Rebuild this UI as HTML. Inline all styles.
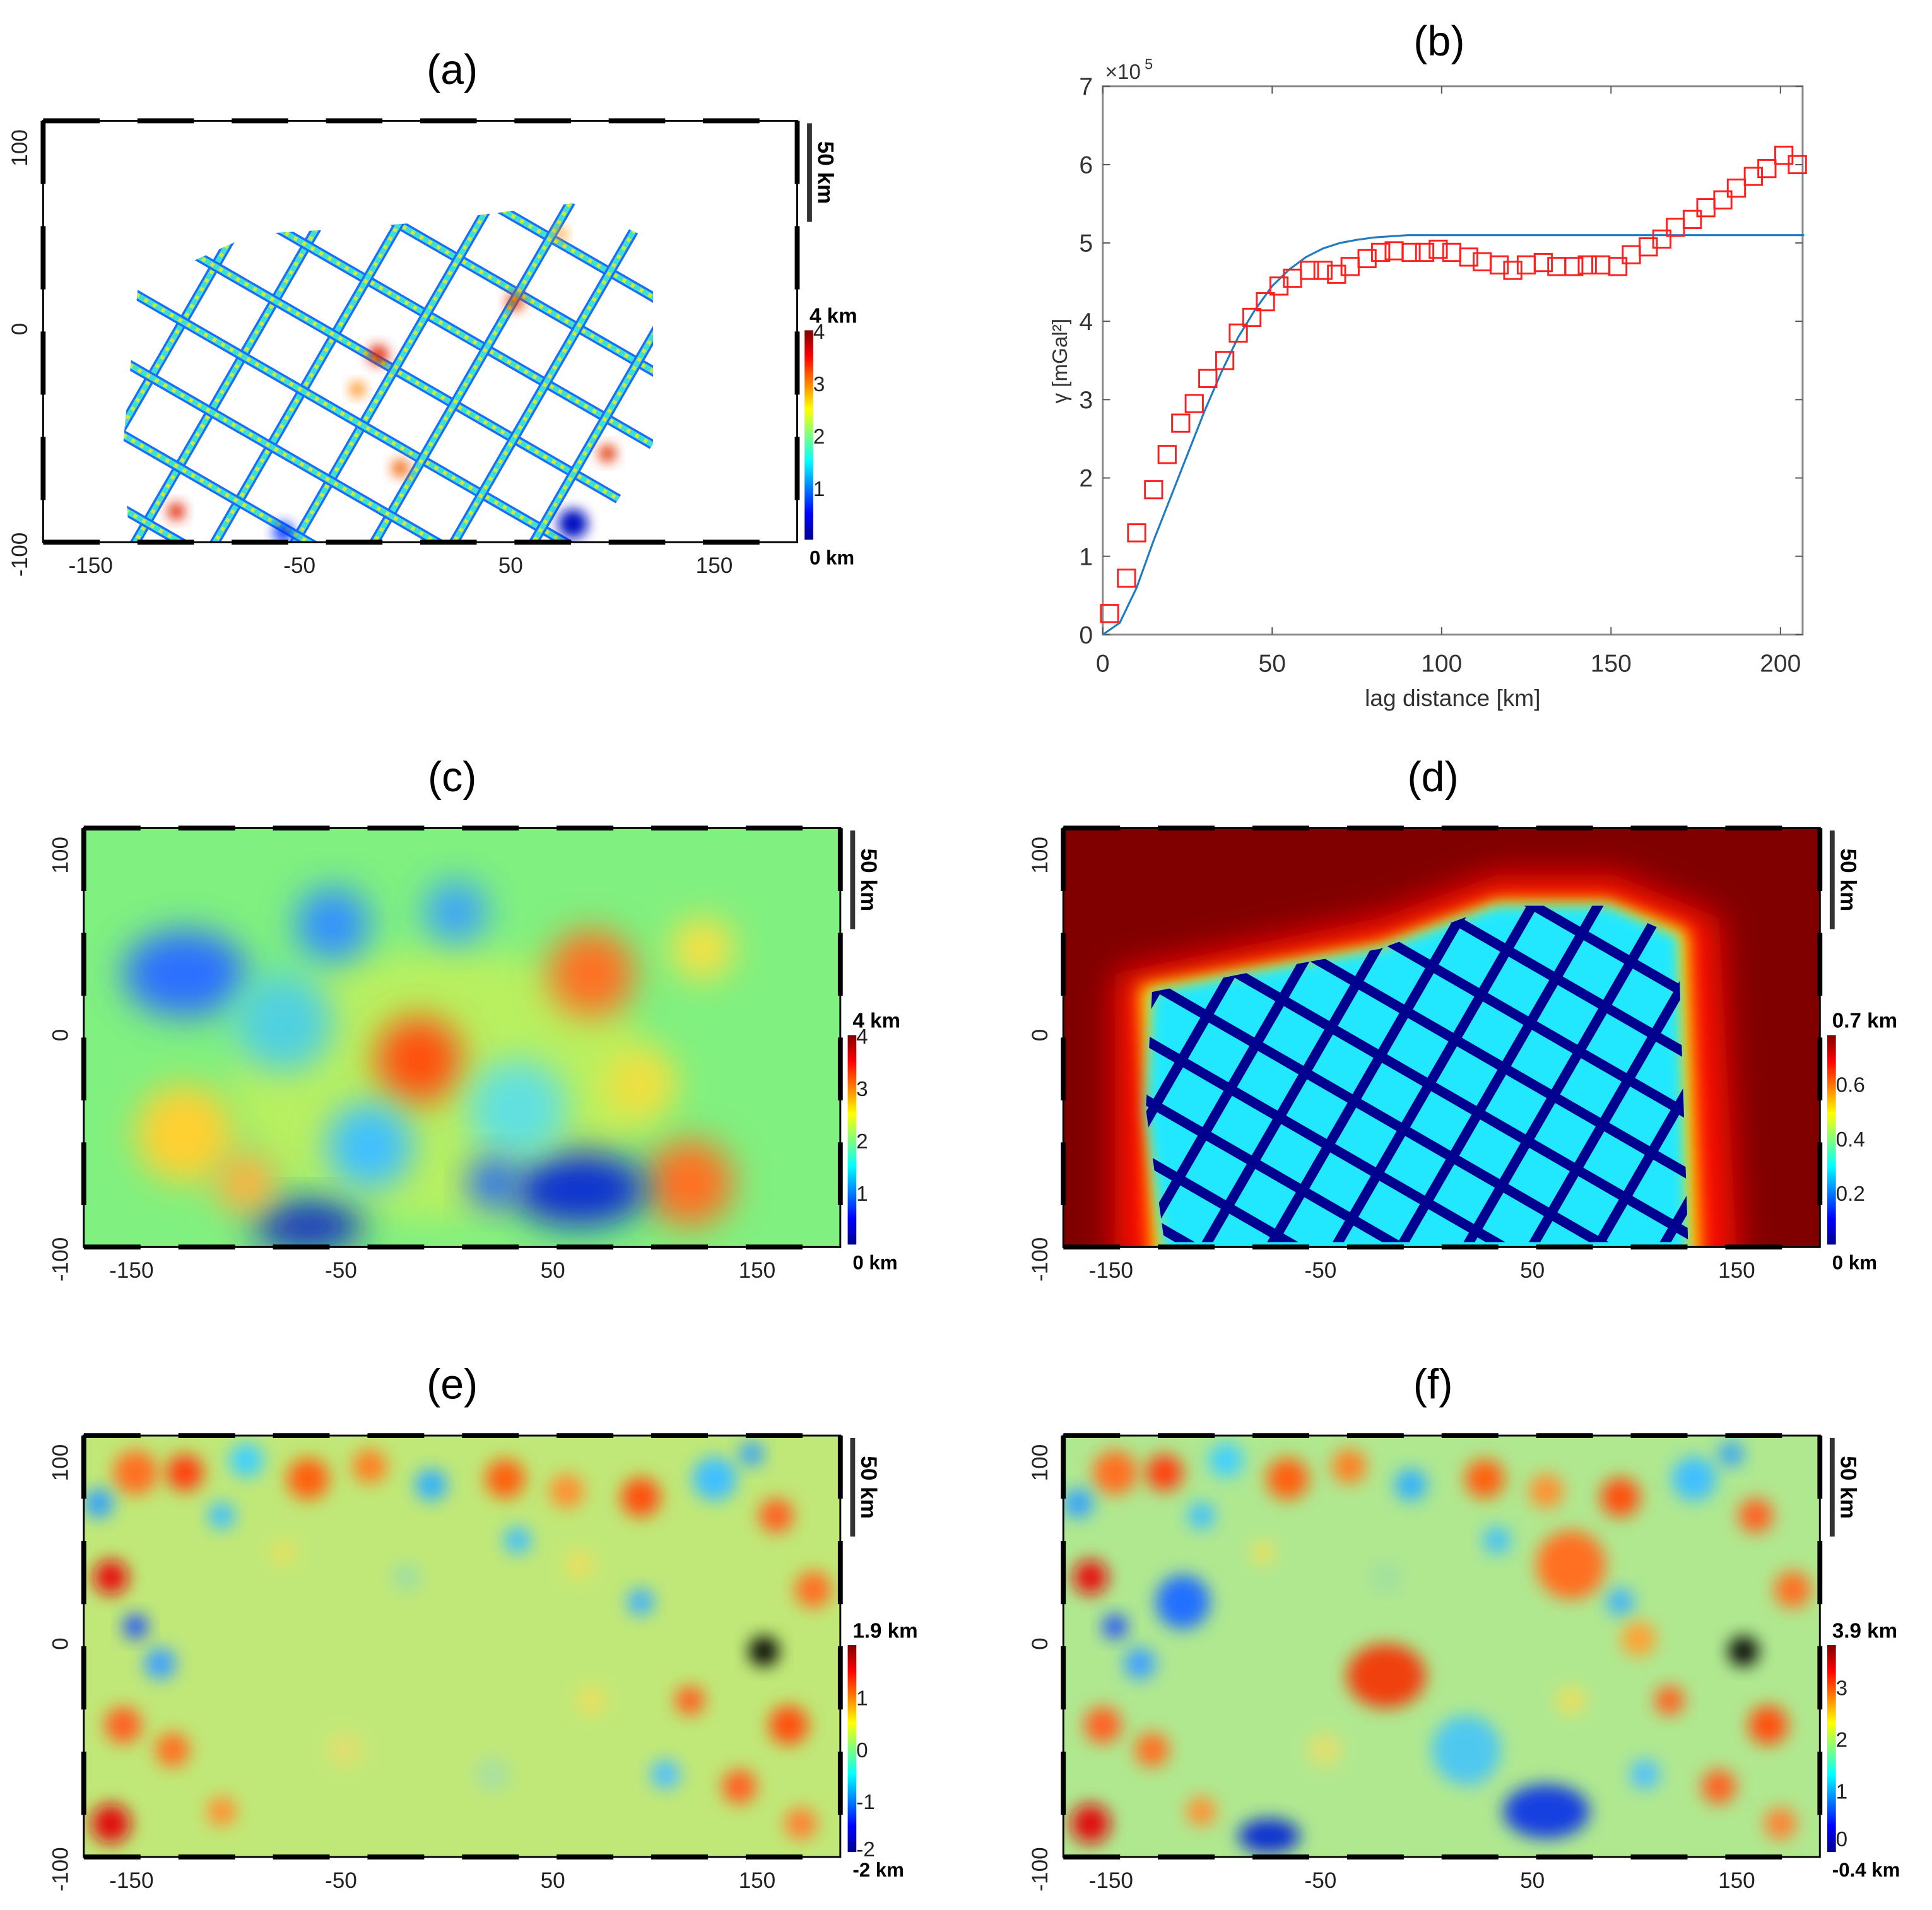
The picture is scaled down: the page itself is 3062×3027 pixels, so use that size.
<!DOCTYPE html>
<html><head><meta charset="utf-8">
<style>
html,body{margin:0;padding:0;background:#fff;}
svg{display:block;font-family:"Liberation Sans",sans-serif;}
</style></head>
<body>
<svg id="fig" xmlns="http://www.w3.org/2000/svg" width="3062" height="3027" viewBox="0 0 1568 1550">
<defs>
<linearGradient id="jet" x1="0" y1="1" x2="0" y2="0">
<stop offset="0" stop-color="#00008f"/><stop offset="0.125" stop-color="#0000ff"/><stop offset="0.375" stop-color="#00ffff"/><stop offset="0.625" stop-color="#ffff00"/><stop offset="0.875" stop-color="#ff0000"/><stop offset="1" stop-color="#800000"/>
</linearGradient>
<filter id="blur8" x="-50%" y="-50%" width="200%" height="200%"><feGaussianBlur stdDeviation="7"/></filter>
<filter id="blur5" x="-50%" y="-50%" width="200%" height="200%"><feGaussianBlur stdDeviation="5"/></filter>
<filter id="blur14" x="-50%" y="-50%" width="200%" height="200%"><feGaussianBlur stdDeviation="14"/></filter>
<clipPath id="clipA"><rect x="35" y="98" width="612" height="342"/></clipPath>
<clipPath id="clipC"><rect x="68" y="672" width="614" height="340"/></clipPath>
<clipPath id="clipD"><rect x="863" y="672" width="614" height="340"/></clipPath>
<clipPath id="clipE"><rect x="68" y="1165" width="614" height="342"/></clipPath>
<clipPath id="clipF"><rect x="863" y="1165" width="614" height="342"/></clipPath>
<clipPath id="clipGridA"><polygon points="112,232 205,190 290,185 345,180 465,165 530,195 530,360 480,440 105,440 100,360"/></clipPath>
<clipPath id="clipGridD"><polygon points="935,805 1010,790 1120,770 1215,735 1305,735 1362,760 1370,1008 945,1008 930,900"/></clipPath>
</defs>
<g id="root"></g>
</svg>
<script>
// ---------- Panel (b) data ----------
const lagObs = [2,7,10,15,19,23,27,31,36,40,44,48,52,56,61,65,69,73,78,82,86,91,95,99,103,108,112,117,121,125,130,134,139,143,147,152,156,161,165,169,174,178,183,187,192,196,201,205];
const gammaObs = [0.27,0.72,1.3,1.85,2.3,2.7,2.95,3.27,3.5,3.85,4.05,4.25,4.45,4.55,4.65,4.65,4.6,4.7,4.8,4.88,4.9,4.88,4.88,4.92,4.88,4.82,4.76,4.72,4.65,4.72,4.75,4.7,4.7,4.72,4.72,4.7,4.85,4.95,5.05,5.2,5.3,5.45,5.55,5.7,5.85,5.95,6.12,6.0,6.05];
const lagModel = [0,5,10,15,20,25,30,35,40,45,50,55,60,65,70,75,80,90,100,207];
const gammaModel = [0,0.15,0.6,1.2,1.75,2.3,2.85,3.35,3.8,4.15,4.45,4.66,4.82,4.93,5.0,5.04,5.07,5.1,5.1,5.1];
const xTicksB = [0,50,100,150,200];
const yTicksB = [0,1,2,3,4,5,6,7];
const mapXTicks = ["-150","-50","50","150"];

const NS="http://www.w3.org/2000/svg";
const root=document.getElementById('root');
function mk(tag,attrs,parent,text){const e=document.createElementNS(NS,tag);for(const k in attrs)e.setAttribute(k,attrs[k]);if(text!==undefined)e.textContent=text;(parent||root).appendChild(e);return e;}

// ---------- Panel (b) ----------
const bx0=895,bx1=1463,by0=515,by1=70;
const xB=v=>bx0+v*2.75, yB=v=>by0-v*(by0-by1)/7;
const gb=mk('g',{});


const tb=mk('text',{x:1168,y:45,'font-size':34,'text-anchor':'middle'},gb,'(b)');


const axB=mk('rect',{x:bx0,y:by1,width:bx1-bx0,height:by0-by1,fill:'none',stroke:'#888','stroke-width':1.5},gb);


xTicksB.forEach(t=>{
  mk('line',{x1:xB(t),x2:xB(t),y1:by0,y2:by0-6,stroke:'#555'},gb);
  mk('line',{x1:xB(t),x2:xB(t),y1:by1,y2:by1+6,stroke:'#555'},gb);
  const l=mk('text',{x:xB(t),y:545,'font-size':20,'text-anchor':'middle',fill:'#333'},gb,String(t));
  
  
});
yTicksB.forEach(t=>{
  mk('line',{x1:bx0,x2:bx0+6,y1:yB(t),y2:yB(t),stroke:'#555'},gb);
  mk('line',{x1:bx1,x2:bx1-6,y1:yB(t),y2:yB(t),stroke:'#555'},gb);
  const l=mk('text',{x:887,y:yB(t)+7,'font-size':20,'text-anchor':'end',fill:'#333'},gb,String(t));
  
  
});
const exp=mk('text',{x:897,y:64,'font-size':17,fill:'#333'},gb,'×10');


mk('text',{x:929,y:56,'font-size':12,fill:'#333'},gb,'5');
const xt=mk('text',{x:1179,y:573,'font-size':19,'text-anchor':'middle',fill:'#333'},gb,'lag distance [km]');


const yt=mk('text',{x:0,y:0,'font-size':17,'text-anchor':'middle',fill:'#333',transform:'translate(866,293) rotate(-90)'},gb,'γ [mGal²]');


let dM='';lagModel.forEach((h,i)=>{dM+=(i?'L':'M')+xB(h)+','+yB(gammaModel[i]);});
const ml=mk('path',{d:dM,fill:'none',stroke:'#1f7bc4','stroke-width':1.6,'stroke-linejoin':'round'},gb);


lagObs.forEach((h,i)=>{
  const s=mk('rect',{x:xB(h)-7,y:yB(gammaObs[i])-7,width:14,height:14,fill:'none',stroke:'#ff2020','stroke-width':1.5},gb);
  
  
});

// ---------- map frame helper ----------
function frame(g,x0,y0,x1,y1,title,titleX,cbTop,cbBot,cbLabels,topLab,botLab,xtk,ytx){
  const t=mk('text',{x:titleX,y:y0-30,'font-size':34,'text-anchor':'middle'},g,title);
  
  
  mk('rect',{x:x0,y:y0,width:x1-x0,height:y1-y0,fill:'none',stroke:'#000','stroke-width':1.5},g);
  for(let i=0;i<8;i++){const w=(x1-x0)/8;
    mk('line',{x1:x0+i*w,x2:x0+(i+0.6)*w,y1:y0,y2:y0,stroke:'#000','stroke-width':4},g);
    mk('line',{x1:x0+i*w,x2:x0+(i+0.6)*w,y1:y1,y2:y1,stroke:'#000','stroke-width':4},g);}
  for(let i=0;i<4;i++){const h=(y1-y0)/4;
    mk('line',{x1:x0,x2:x0,y1:y0+i*h,y2:y0+(i+0.6)*h,stroke:'#000','stroke-width':4},g);
    mk('line',{x1:x1,x2:x1,y1:y0+i*h,y2:y0+(i+0.6)*h,stroke:'#000','stroke-width':4},g);}
  const xs=[x0+0.063*(x1-x0),x0+0.34*(x1-x0),x0+0.62*(x1-x0),x0+0.89*(x1-x0)];
  mapXTicks.forEach((s,i)=>{const l=mk('text',{x:xs[i],y:y1+25,'font-size':18,'text-anchor':'middle',fill:'#222'},g,s);
    
    });
  [['100',y0+22],['0',(y0+y1)/2-2],['-100',y1+10]].forEach(p=>{const l=mk('text',{x:0,y:0,'font-size':18,'text-anchor':'middle',fill:'#222',transform:`translate(${ytx},${p[1]}) rotate(-90)`},g,p[0]);
    
    });
  const sb=mk('line',{x1:x1+10,x2:x1+10,y1:y0+2,y2:y0+82,stroke:'#333','stroke-width':4},g);
  
  
  mk('text',{x:0,y:0,'font-size':18,'font-weight':'bold','text-anchor':'middle',transform:`translate(${x1+17},${y0+42}) rotate(90)`},g,'50 km');
  const cb=mk('rect',{x:x1+6,y:cbTop,width:7,height:cbBot-cbTop,fill:'url(#jet)'},g);
  
  
  cbLabels.forEach(c=>{mk('text',{x:x1+13,y:cbTop+(cbBot-cbTop)*c[1]+7,'font-size':17,fill:'#222'},g,c[0]);});
  const tl=mk('text',{x:x1+10,y:cbTop-6,'font-size':17,'font-weight':'bold'},g,topLab);
  
  
  const bl=mk('text',{x:x1+10,y:cbBot+20,'font-size':16,'font-weight':'bold'},g,botLab);
  
  
}
function blobs(g,list,filt){list.forEach(b=>{const c=mk('ellipse',{cx:b[0],cy:b[1],rx:b[2],ry:b[3],fill:b[4],filter:'url(#'+filt+')'},g);
  
  });}
function fixBlobs(l){return l.map(b=>b.length==4?[b[0],b[1],b[2],b[2],b[3]]:b);}

// ---------- Panel (a) ----------
const ga=mk('g',{});


const gaIn=mk('g',{'clip-path':'url(#clipA)'},ga);
mk('rect',{x:35,y:98,width:612,height:342,fill:'#fff'},gaIn);
const gaG=mk('g',{'clip-path':'url(#clipGridA)'},gaIn);
const gaR=mk('g',{transform:'rotate(30,320,300)'},gaG);
const aRows=[-4,-3,-2,-1,0,1,2,3,4];
aRows.forEach(k=>{
  const y=300+k*52;
  mk('line',{x1:20,x2:640,y1:y,y2:y,stroke:'#1a6cff','stroke-width':8},gaR);
  mk('line',{x1:20,x2:640,y1:y,y2:y,stroke:'#40e0d0','stroke-width':4.5},gaR);
  mk('line',{x1:20,x2:640,y1:y,y2:y,stroke:'#d6e830','stroke-width':3,'stroke-dasharray':'3 5'},gaR);
  const x=320+k*56;
  mk('line',{x1:x,x2:x,y1:0,y2:640,stroke:'#1a6cff','stroke-width':8},gaR);
  mk('line',{x1:x,x2:x,y1:0,y2:640,stroke:'#40e0d0','stroke-width':4.5},gaR);
  mk('line',{x1:x,x2:x,y1:0,y2:640,stroke:'#d6e830','stroke-width':3,'stroke-dasharray':'3 5'},gaR);
});
blobs(gaIn,fixBlobs([[307,288,8,'#e02000'],[418,245,7,'#e04000'],[290,316,6,'#ff8000'],[325,380,7,'#f06000'],[493,368,7,'#e03000'],[143,415,7,'#e02000'],[465,425,12,'#0010c0'],[230,432,8,'#0030ff'],[455,190,5,'#ff9000']]),'blur5');
frame(ga,35,98,647,440,'(a)',367,268,438,[['4',0],['3',0.25],['2',0.5],['1',0.75]],'4 km','0 km',mapXTicks,22);

// ---------- Panel (c) ----------
const gc=mk('g',{});


const gcIn=mk('g',{'clip-path':'url(#clipC)'},gc);
mk('rect',{x:68,y:672,width:614,height:340,fill:'#80f080'},gcIn);
blobs(gcIn,fixBlobs([[360,880,170,110,'#b8f060'],[150,790,50,35,'#2a70ff'],[270,750,30,'#3090ff'],[370,740,25,'#3aa0ff'],[230,830,40,'#50d0e0'],[340,860,35,'#ff5010'],[480,790,35,'#ff7020'],[570,770,25,'#ffe040'],[150,920,40,'#ffd030'],[560,960,35,'#ff7020'],[470,965,55,30,'#1030d0'],[250,995,45,20,'#1830c0'],[300,930,35,'#40c0ff'],[420,900,40,'#60e0e0'],[520,880,30,'#f0e040'],[200,960,25,'#ffb040'],[400,960,20,'#2060ff']]),'blur14');
frame(gc,68,672,682,1012,'(c)',367,840,1010,[['4',0],['3',0.25],['2',0.5],['1',0.75]],'4 km','0 km',mapXTicks,55);

// ---------- Panel (d) ----------
const gd=mk('g',{});


const gdIn=mk('g',{'clip-path':'url(#clipD)'},gd);
mk('rect',{x:863,y:672,width:614,height:340,fill:'#800000'},gdIn);
mk('polygon',{points:'905,790 1000,770 1120,745 1215,710 1310,710 1395,745 1410,1030 905,1030',fill:'#ff1000',filter:'url(#blur14)'},gdIn);
mk('polygon',{points:'925,800 1010,785 1120,765 1215,730 1305,730 1370,755 1380,1030 935,1030',fill:'#ffe000',filter:'url(#blur8)'},gdIn);
mk('polygon',{points:'935,805 1010,790 1120,770 1215,735 1305,735 1362,760 1370,1030 945,1030 930,900',fill:'#20e8ff',filter:'url(#blur5)'},gdIn);
const gdG=mk('g',{'clip-path':'url(#clipGridD)'},gdIn);
const gdR=mk('g',{transform:'rotate(30,1160,880)'},gdG);
aRows.concat([5,-5]).forEach(k=>{
  mk('line',{x1:700,x2:1600,y1:880+k*42,y2:880+k*42,stroke:'#000090','stroke-width':8},gdR);
  mk('line',{x1:1160+k*46,x2:1160+k*46,y1:500,y2:1300,stroke:'#000090','stroke-width':8},gdR);
});
frame(gd,863,672,1477,1012,'(d)',1163,840,1010,[['0.6',0.23],['0.4',0.49],['0.2',0.75]],'0.7 km','0 km',mapXTicks,850);

// ---------- Panel (e) ----------
const ge=mk('g',{});


const geIn=mk('g',{'clip-path':'url(#clipE)'},ge);
mk('rect',{x:68,y:1165,width:614,height:342,fill:'#c0e878'},geIn);
const eBlobs=[[90,1280,14,'#e81010'],[110,1195,18,'#ff7020'],[150,1195,15,'#ff4010'],[200,1185,14,'#40d0ff'],[250,1200,17,'#ff6010'],[300,1190,14,'#ff8020'],[350,1205,13,'#30b0ff'],[410,1200,16,'#ff6010'],[460,1210,14,'#ff9030'],[520,1215,16,'#ff5010'],[580,1200,18,'#40c0ff'],[630,1230,14,'#ff6020'],[660,1290,15,'#ff7020'],[620,1340,12,'#000'],[640,1400,16,'#ff5010'],[600,1450,14,'#ff6020'],[650,1480,13,'#ff8030'],[90,1480,16,'#e01010'],[100,1400,15,'#ff6020'],[130,1350,13,'#40a0ff'],[110,1320,10,'#2050ff'],[140,1420,14,'#ff7020'],[180,1470,12,'#ff9030'],[520,1300,11,'#40b0ff'],[560,1380,12,'#ff6020'],[540,1440,12,'#50c0ff'],[420,1250,11,'#40c0ff'],[180,1230,11,'#40c0ff'],[610,1180,10,'#30a0ff'],[80,1220,12,'#30a0ff'],[230,1260,10,'#e8e060'],[330,1280,12,'#a0e0a0'],[470,1270,12,'#e8e060'],[280,1420,14,'#e0e070'],[400,1440,14,'#a8e0a0'],[480,1380,12,'#e8e060']];
blobs(geIn,fixBlobs(eBlobs),'blur8');
frame(ge,68,1165,682,1507,'(e)',367,1335,1503,[['1',0.25],['0',0.5],['-1',0.75],['-2',0.98]],'1.9 km','-2 km',mapXTicks,55);

// ---------- Panel (f) ----------
const gf=mk('g',{});


const gfIn=mk('g',{'clip-path':'url(#clipF)'},gf);
mk('rect',{x:863,y:1165,width:614,height:342,fill:'#b0e890'},gfIn);
const fBlobs=eBlobs.map(b=>[b[0]+795,b[1],b[2],b[3]]).concat([[1125,1360,32,26,'#f04010'],[1255,1470,35,22,'#1840e0'],[1030,1490,25,14,'#1030d0'],[1275,1270,28,'#ff7020'],[1190,1420,28,'#50c8f0'],[960,1300,22,'#2070ff'],[1330,1330,14,'#ffa030']]);
blobs(gfIn,fixBlobs(fBlobs),'blur8');
frame(gf,863,1165,1477,1507,'(f)',1163,1335,1503,[['3',0.2],['2',0.45],['1',0.7],['0',0.93]],'3.9 km','-0.4 km',mapXTicks,850);
</script>
</body></html>
